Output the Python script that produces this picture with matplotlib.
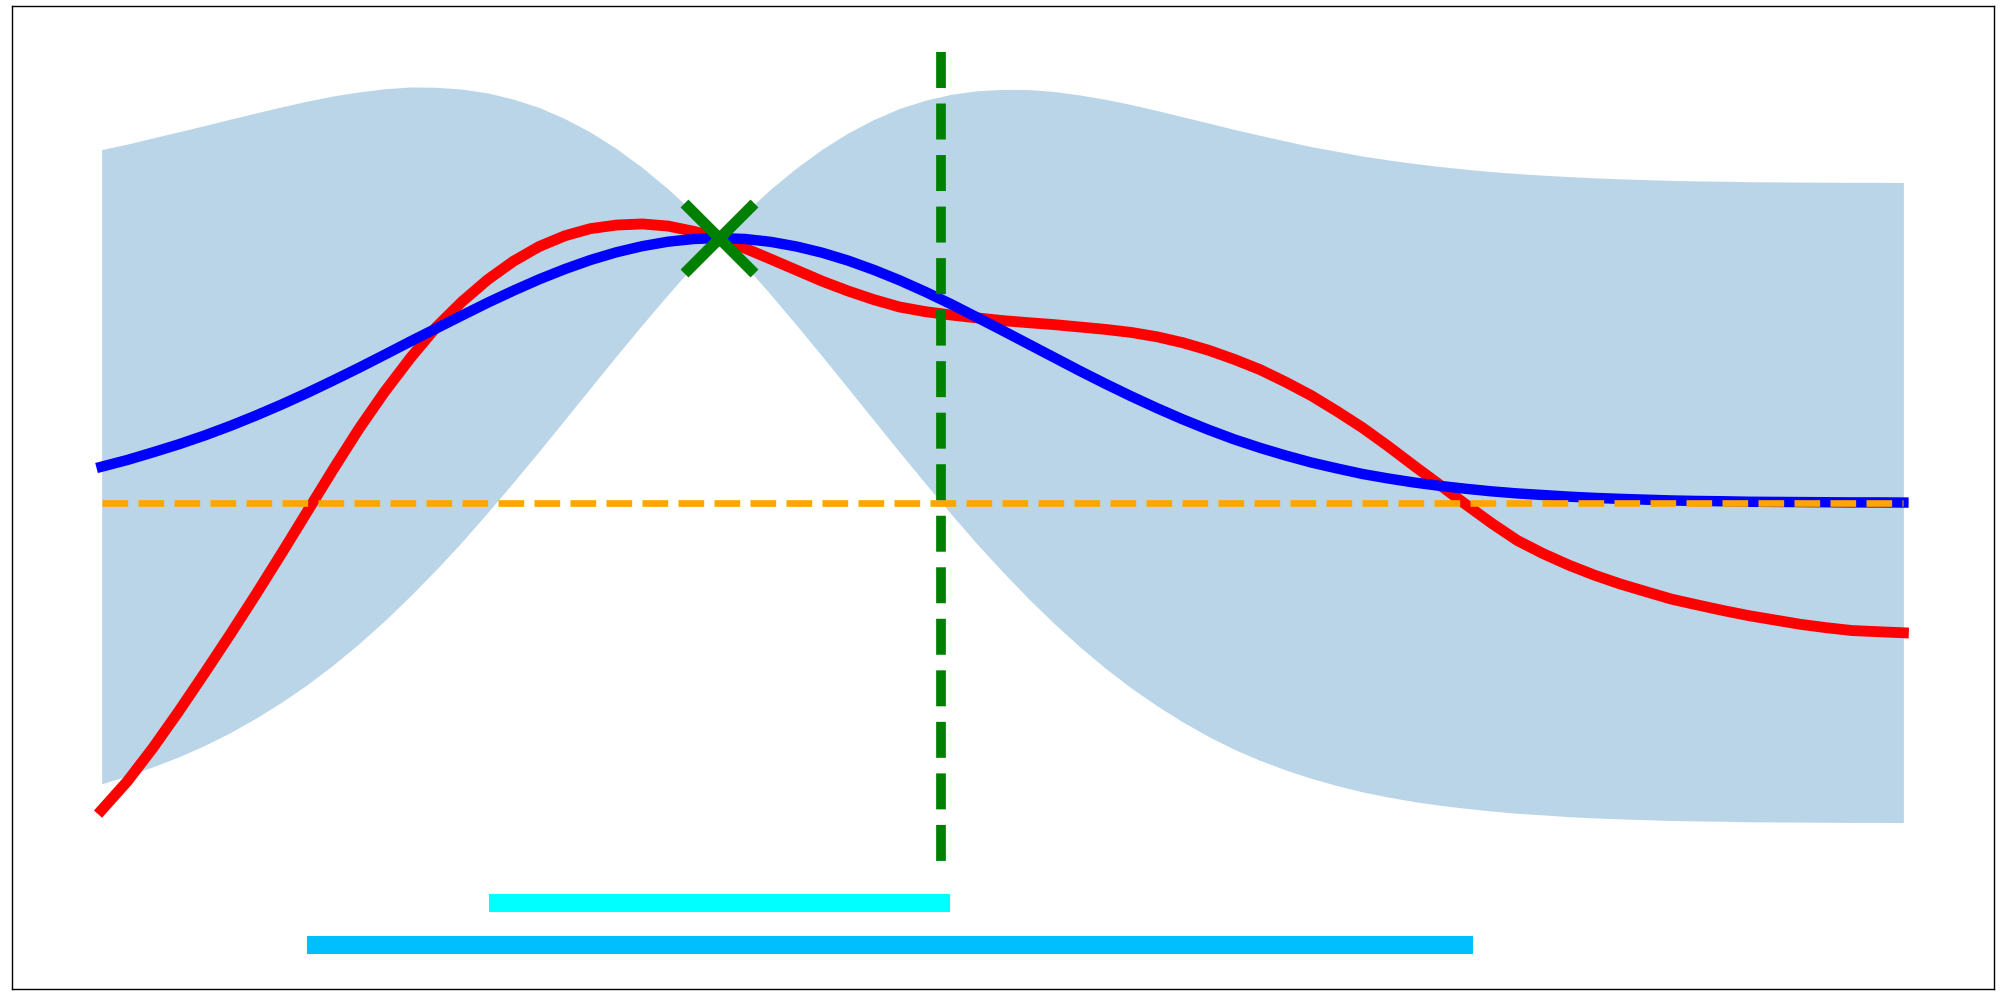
import numpy as np
import matplotlib
matplotlib.use("Agg")
import matplotlib.pyplot as plt

# sample grid, step 1/70 (the observation sits on point 24)
x_grid = np.linspace(0.0, 1.0, 71)

# objective (red)
true_f = [-1.921, -1.741, -1.531, -1.303, -1.065, -0.822, -0.572, -0.315, -0.053, 0.209,
          0.462, 0.694, 0.905, 1.097, 1.256, 1.394, 1.509, 1.601, 1.668, 1.713,
          1.735, 1.742, 1.729, 1.696, 1.654, 1.590, 1.522, 1.453, 1.384, 1.323,
          1.269, 1.223, 1.194, 1.173, 1.155, 1.138, 1.125, 1.113, 1.098, 1.083,
          1.064, 1.037, 1.000, 0.953, 0.896, 0.832, 0.754, 0.669, 0.571, 0.467,
          0.351, 0.229, 0.110, -0.011, -0.128, -0.236, -0.318, -0.390, -0.453, -0.508,
          -0.556, -0.603, -0.639, -0.674, -0.706, -0.733, -0.760, -0.781, -0.799, -0.806,
          -0.813]

# posterior mean (blue)
gp_mean = [0.225, 0.267, 0.315, 0.365, 0.420, 0.480, 0.545, 0.614, 0.687, 0.764,
           0.843, 0.925, 1.008, 1.089, 1.170, 1.250, 1.325, 1.396, 1.460, 1.517,
           1.565, 1.603, 1.631, 1.648, 1.654, 1.648, 1.630, 1.601, 1.562, 1.513,
           1.455, 1.390, 1.318, 1.241, 1.159, 1.076, 0.992, 0.908, 0.824, 0.743,
           0.665, 0.591, 0.521, 0.456, 0.396, 0.343, 0.295, 0.251, 0.214, 0.179,
           0.151, 0.126, 0.105, 0.087, 0.071, 0.058, 0.048, 0.038, 0.030, 0.024,
           0.019, 0.014, 0.011, 0.009, 0.006, 0.005, 0.004, 0.003, 0.002, 0.002,
           0.001]

# half width of the uncertainty band (2 sigma)
gp_band = [1.982, 1.974, 1.965, 1.953, 1.937, 1.917, 1.891, 1.860, 1.823, 1.778,
           1.724, 1.662, 1.590, 1.507, 1.415, 1.311, 1.197, 1.074, 0.940, 0.798,
           0.648, 0.492, 0.331, 0.166, 0.000, 0.166, 0.331, 0.492, 0.648, 0.798,
           0.940, 1.074, 1.197, 1.311, 1.415, 1.507, 1.590, 1.662, 1.724, 1.778,
           1.823, 1.860, 1.891, 1.917, 1.937, 1.953, 1.965, 1.974, 1.982, 1.987,
           1.991, 1.994, 1.996, 1.997, 1.998, 1.999, 1.999, 2.000, 2.000, 2.000,
           2.000, 2.000, 2.000, 2.000, 2.000, 2.000, 2.000, 2.000, 2.000, 2.000,
           2.000]

prior_mean = 0.0
obs_x, obs_y = 24 / 70, 1.654
next_x = 0.4658
next_span = (2.819, -2.2375)

# intervals drawn under the plot: (start, end, height)
interval_inner = (0.2201, 0.4658, -2.50)
interval_outer = (0.1190, 0.7563, -2.762)

mean = np.array(gp_mean)
band = np.array(gp_band)

fig = plt.figure(figsize=(20, 10), dpi=100)
ax = fig.add_axes([0.00575, 0.011, 0.991, 0.983])

ax.fill_between(x_grid, mean - band, mean + band, color="C0", alpha=0.3, lw=0, zorder=1)
ax.plot(x_grid, true_f, color="red", lw=7.8, zorder=2)
ax.plot(x_grid, mean, color="blue", lw=7.5, zorder=3)
ax.plot([x_grid[0], x_grid[-1]], [prior_mean, prior_mean], color="orange",
        lw=4.8, ls=(0, (3.85, 1.55)), zorder=4)
ax.plot([next_x, next_x], list(next_span), color="green", lw=7, ls="--", zorder=5)
ax.plot([obs_x], [obs_y], marker="x", color="green", ms=50, mew=8, ls="none", zorder=6)

ax.plot(interval_inner[:2], [interval_inner[2]] * 2, color="cyan", lw=13, zorder=5)
ax.plot(interval_outer[:2], [interval_outer[2]] * 2, color="deepskyblue", lw=13, zorder=5)

ax.set_xlim(-0.05, 1.05)
ax.set_ylim(-3.039, 3.104)
ax.set_xticks([])
ax.set_yticks([])
for spine in ax.spines.values():
    spine.set_linewidth(1.0)
    spine.set_color("black")

fig.savefig("out.png", dpi=100, facecolor="white")
plt.close(fig)
